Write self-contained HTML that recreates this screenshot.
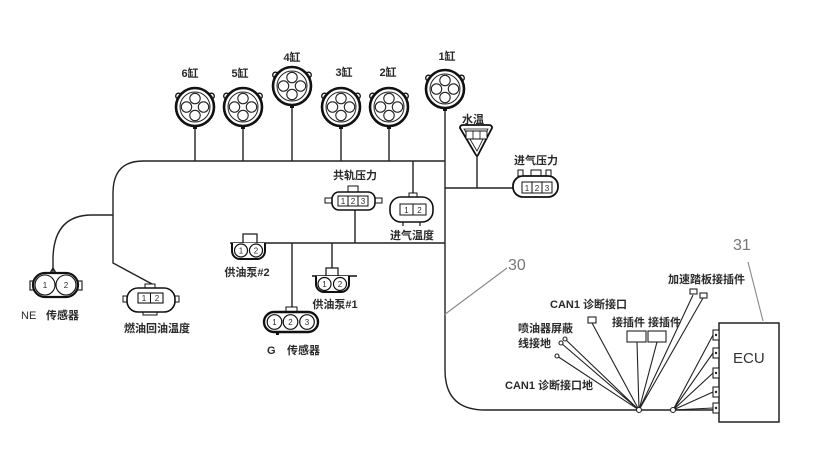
<!DOCTYPE html>
<html>
<head>
<meta charset="utf-8">
<style>
html,body{margin:0;padding:0;background:#fff;}
svg{display:block;}
text{font-family:"Liberation Sans","Noto Sans CJK SC",sans-serif;fill:#2a2a2a;}
.l{font-size:11px;font-weight:bold;}
</style>
</head>
<body>
<svg width="837" height="453" viewBox="0 0 837 453" xmlns="http://www.w3.org/2000/svg">
<defs>
  <g id="cyl">
    <circle cx="-16.5" cy="-11" r="2.8" fill="#fff" stroke="#111" stroke-width="1.3"/>
    <circle cx="16.5" cy="-11" r="2.8" fill="#fff" stroke="#111" stroke-width="1.3"/>
    <circle r="19" fill="#fff" stroke="#111" stroke-width="2.6"/>
    <circle r="15" fill="#fff" stroke="#222" stroke-width="1"/>
    <circle cx="0" cy="-8.5" r="5.2" fill="#fff" stroke="#222" stroke-width="1.1"/>
    <circle cx="8.5" cy="0" r="5.2" fill="#fff" stroke="#222" stroke-width="1.1"/>
    <circle cx="0" cy="8.5" r="5.2" fill="#fff" stroke="#222" stroke-width="1.1"/>
    <circle cx="-8.5" cy="0" r="5.2" fill="#fff" stroke="#222" stroke-width="1.1"/>
    <rect x="-2" y="18" width="4" height="4" fill="#111"/>
  </g>
</defs>

<g fill="none" stroke="#222" stroke-width="1.4">
  <!-- top bus -->
  <path d="M445 161 H143 Q113 161 113 193 V263 L152 284"/>
  <!-- NE branch -->
  <path d="M113 215 H92 Q54 215 53 258 V273"/>
  <path d="M53 268 L49 275 M53 268 L57 275"/>
  <!-- cylinder stems -->
  <path d="M195 126 V161 M243 126 V161 M292 105 V161 M341 126 V161 M389 126 V161"/>
  <!-- main vertical + bottom -->
  <path d="M445 108 V370 Q445 410 485 410 H713"/>
  <!-- intake temp stem -->
  <path d="M413 161 V194"/>
  <!-- pump bus -->
  <path d="M230 243 H445"/>
  <path d="M355 210 V243 M332 243 V268 M292 243 V308"/>
  <!-- water temp -->
  <path d="M477 156 V188 M445 188 H513"/>
</g>

<!-- cylinders -->
<use href="#cyl" x="195" y="107"/>
<use href="#cyl" x="243" y="107"/>
<use href="#cyl" x="292" y="86"/>
<use href="#cyl" x="341" y="107"/>
<use href="#cyl" x="389" y="107"/>
<use href="#cyl" x="445" y="89"/>

<g class="l" text-anchor="middle">
  <text class="l" x="190" y="77">6缸</text>
  <text class="l" x="240" y="77">5缸</text>
  <text class="l" x="292" y="61">4缸</text>
  <text class="l" x="344" y="76">3缸</text>
  <text class="l" x="388" y="76">2缸</text>
  <text class="l" x="447" y="60">1缸</text>
  <text class="l" x="473" y="123">水温</text>
  <text class="l" x="536" y="164">进气压力</text>
  <text class="l" x="355" y="179">共轨压力</text>
  <text class="l" x="412" y="239">进气温度</text>
  <text class="l" x="247" y="276">供油泵#2</text>
  <text class="l" x="335" y="308">供油泵#1</text>
  <text class="l" x="157" y="332">燃油回油温度</text>
</g>
<text class="l" x="267" y="354">G</text>
<text class="l" x="287" y="354">传感器</text>
<text class="l" x="21" y="319" style="font-weight:normal">NE</text>
<text class="l" x="46" y="319">传感器</text>

<!-- water temp triangle -->
<g stroke="#111" fill="#fff">
  <path d="M460 128 Q460 125 463 125 H489 Q492 125 492 128 L478 155 Q477 157 476 155 Z" stroke-width="1.8"/>
  <path d="M464 129 H488 L477 151 Z" stroke-width="0.8"/>
  <rect x="466" y="131" width="21" height="8" stroke-width="1"/>
  <path d="M473 131 V139 M480 131 V139" stroke-width="0.8"/>
</g>

<!-- intake pressure -->
<g stroke="#111" fill="#fff">
  <rect x="518" y="170" width="5" height="6" stroke-width="1"/>
  <rect x="531" y="170" width="10" height="6" stroke-width="1"/>
  <rect x="546" y="170" width="5" height="6" stroke-width="1"/>
  <rect x="513" y="176" width="45" height="21" rx="10" stroke-width="1.8"/>
  <rect x="522" y="182" width="30" height="11" stroke-width="1"/>
  <path d="M532 182 V193 M542 182 V193" stroke-width="1"/>
</g>
<g font-size="8" text-anchor="middle"><text x="527" y="191">1</text><text x="537" y="191">2</text><text x="547" y="191">3</text></g>

<!-- common rail pressure -->
<g stroke="#111" fill="#fff">
  <rect x="348" y="186" width="10" height="6" stroke-width="1"/>
  <rect x="325" y="198" width="8" height="5" stroke-width="1"/>
  <rect x="374" y="198" width="8" height="5" stroke-width="1"/>
  <rect x="332" y="192" width="43" height="18" rx="7" stroke-width="1.6"/>
  <rect x="338" y="196" width="30" height="10" stroke-width="1"/>
  <path d="M348 196 V206 M358 196 V206" stroke-width="1"/>
</g>
<g font-size="8" text-anchor="middle"><text x="343" y="204">1</text><text x="353" y="204">2</text><text x="363" y="204">3</text></g>

<!-- intake temp -->
<g stroke="#111" fill="#fff">
  <rect x="409" y="193" width="8" height="4" stroke-width="1"/>
  <path d="M403 222 V226 M420 222 V226" stroke-width="1.2"/>
  <rect x="390" y="197" width="43" height="25" rx="11" stroke-width="1.6"/>
  <rect x="400" y="204" width="26" height="11" stroke-width="1"/>
  <path d="M413 204 V215" stroke-width="1"/>
</g>
<g font-size="8" text-anchor="middle"><text x="406.5" y="213">1</text><text x="419.5" y="213">2</text></g>

<!-- pump #2 -->
<g stroke="#111" fill="#fff">
  <rect x="243" y="234" width="14" height="9" stroke-width="1.2"/>
  <path d="M232 243 V251 A8 8 0 0 0 240 259 H257 A8 8 0 0 0 265 251 V243" stroke-width="2"/>
  <circle cx="241" cy="250.5" r="6.5" stroke-width="1.2"/>
  <circle cx="256" cy="250.5" r="6.5" stroke-width="1.2"/>
</g>
<g font-size="8" text-anchor="middle"><text x="241" y="253.5">1</text><text x="256" y="253.5">2</text></g>

<!-- pump #1 -->
<g stroke="#111" fill="#fff">
  <rect x="326" y="268" width="12" height="8" stroke-width="1.2"/>
  <path d="M312 276 H357" stroke-width="1.4"/>
  <path d="M316 276 V284 A8 8 0 0 0 324 292 H341 A8 8 0 0 0 349 284 V276" stroke-width="2"/>
  <circle cx="324.5" cy="284" r="6.5" stroke-width="1.2"/>
  <circle cx="340" cy="284" r="6.5" stroke-width="1.2"/>
</g>
<g font-size="8" text-anchor="middle"><text x="324.5" y="287">1</text><text x="340" y="287">2</text></g>

<!-- G sensor -->
<g stroke="#111" fill="#fff">
  <rect x="286" y="307" width="11" height="5" stroke-width="1"/>
  <rect x="264" y="312" width="54" height="20" rx="10" stroke-width="2.4"/>
  <circle cx="274.5" cy="322" r="7.3" stroke-width="1.2"/>
  <circle cx="290.5" cy="322" r="7.3" stroke-width="1.2"/>
  <circle cx="307" cy="322" r="7.3" stroke-width="1.2"/>
  <rect x="276" y="332" width="3" height="3" fill="#111" stroke="none"/>
</g>
<g font-size="8" text-anchor="middle"><text x="274.5" y="325">1</text><text x="290.5" y="325">2</text><text x="307" y="325">3</text></g>

<!-- NE sensor -->
<g stroke="#111" fill="#fff">
  <rect x="30" y="281" width="5" height="9" stroke-width="1.1"/>
  <rect x="77" y="281" width="5" height="9" stroke-width="1.1"/>
  <rect x="33" y="273" width="45" height="24" rx="12" stroke-width="2.2"/>
  <circle cx="45" cy="285" r="10" stroke-width="1.1"/>
  <circle cx="66" cy="285" r="10" stroke-width="1.1"/>
</g>
<g font-size="8" text-anchor="middle"><text x="45" y="288">1</text><text x="66" y="288">2</text></g>

<!-- fuel return temp -->
<g stroke="#111" fill="#fff">
  <rect x="145" y="284" width="10" height="4" stroke-width="1"/>
  <rect x="143" y="311" width="14" height="4" stroke-width="1"/>
  <rect x="123" y="296" width="5" height="6" stroke-width="1"/>
  <rect x="174" y="296" width="5" height="6" stroke-width="1"/>
  <rect x="127" y="288" width="48" height="24" rx="11" stroke-width="1.6"/>
  <rect x="138" y="293" width="25" height="10" stroke-width="1.1"/>
  <path d="M150.5 293 V303" stroke-width="1"/>
</g>
<g font-size="8" text-anchor="middle"><text x="144" y="301">1</text><text x="157" y="301">2</text></g>

<!-- leaders 30 / 31 -->
<g stroke="#888" stroke-width="1.1" fill="none">
  <path d="M507 268 L444 315"/>
  <path d="M748 262 L763 321"/>
</g>
<text x="508" y="270" font-size="16" style="fill:#777">30</text>
<text x="733" y="250" font-size="16" style="fill:#777">31</text>

<!-- fan lines node 1 -->
<g stroke="#222" stroke-width="1.1" fill="none">
  <path d="M639 410 L565 339 M639 410 L561 343 M639 410 L557 356"/>
  <path d="M639 410 L592 323"/>
  <path d="M639 410 L637 342 M639 410 L657 342"/>
  <path d="M639 410 L693 295 M639 410 L703 298"/>
  <path d="M673 410 L713 335 M673 410 L713 353 M673 410 L713 373 M673 410 L713 392 M673 410 L713 408"/>
</g>
<g stroke="#222" stroke-width="1.1" fill="#fff">
  <circle cx="639" cy="410" r="2.5"/>
  <circle cx="673" cy="410" r="2.5"/>
  <circle cx="565" cy="339" r="2"/>
  <circle cx="561" cy="343" r="2"/>
  <circle cx="557" cy="356" r="2"/>
  <rect x="588" y="317" width="8" height="6"/>
  <rect x="627" y="331" width="19" height="11"/>
  <rect x="648" y="331" width="18" height="11"/>
  <rect x="690" y="289" width="7" height="5"/>
  <rect x="700" y="293" width="7" height="5"/>
</g>

<!-- ECU -->
<g stroke="#222" fill="#fff">
  <rect x="719" y="323" width="60" height="99" stroke-width="1.5"/>
  <rect x="713" y="330" width="6" height="10" stroke-width="1.1"/>
  <rect x="713" y="348" width="6" height="10" stroke-width="1.1"/>
  <rect x="713" y="368" width="6" height="10" stroke-width="1.1"/>
  <rect x="713" y="387" width="6" height="10" stroke-width="1.1"/>
  <rect x="713" y="403" width="6" height="10" stroke-width="1.1"/>
</g>
<g fill="#222">
  <circle cx="716" cy="335" r="1.2"/><circle cx="716" cy="353" r="1.2"/><circle cx="716" cy="373" r="1.2"/><circle cx="716" cy="392" r="1.2"/><circle cx="716" cy="408" r="1.2"/>
</g>
<text x="733" y="363" font-size="15" style="fill:#333">ECU</text>

<!-- right labels -->
<text class="l" x="550" y="308">CAN1 诊断接口</text>
<text class="l" x="612" y="326">接插件 接插件</text>
<text class="l" x="518" y="332">喷油器屏蔽</text>
<text class="l" x="518" y="347">线接地</text>
<text class="l" x="505" y="389">CAN1 诊断接口地</text>
<text class="l" x="668" y="283">加速踏板接插件</text>
</svg>
</body>
</html>
